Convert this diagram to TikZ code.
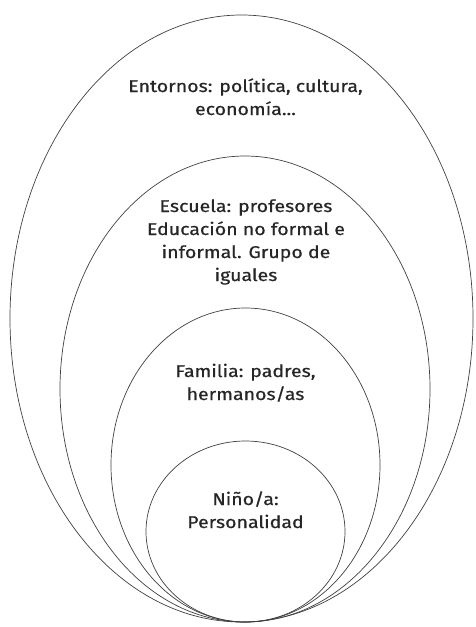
\documentclass[tikz,border=0pt]{standalone}
\usepackage{fontspec}
\setmainfont[FakeStretch=1.15,FakeBold=0.6]{Fira Sans}
\begin{document}
\begin{tikzpicture}[x=1pt,y=-1pt,
  ring/.style={draw=black!75,line width=0.7pt},
  lbl/.style={align=center,text=black!85,font=\fontsize{17}{23}\selectfont,inner sep=0pt}]
\useasboundingbox (0,0) rectangle (475,627);
\draw[ring] (241.5,318.5) ellipse [x radius=231.5pt, y radius=303.5pt];
\draw[ring] (245,389) ellipse [x radius=185pt, y radius=233pt];
\draw[ring] (245.5,465) ellipse [x radius=134.5pt, y radius=157pt];
\draw[ring] (245.5,531.5) ellipse [x radius=99.5pt, y radius=90.5pt];
\node[lbl,anchor=base] (entornos) at (245.5,115) {Entornos: política, cultura,\\economía...};
\node[lbl,anchor=base] (escuela) at (246,281) {Escuela: profesores\\Educación no formal e\\informal. Grupo de\\iguales};
\node[lbl,anchor=base] (familia) at (245.5,400) {Familia: padres,\\hermanos/as};
\node[lbl,anchor=base] (nino) at (245.5,528) {Niño/a:\\Personalidad};
\end{tikzpicture}
\end{document}
